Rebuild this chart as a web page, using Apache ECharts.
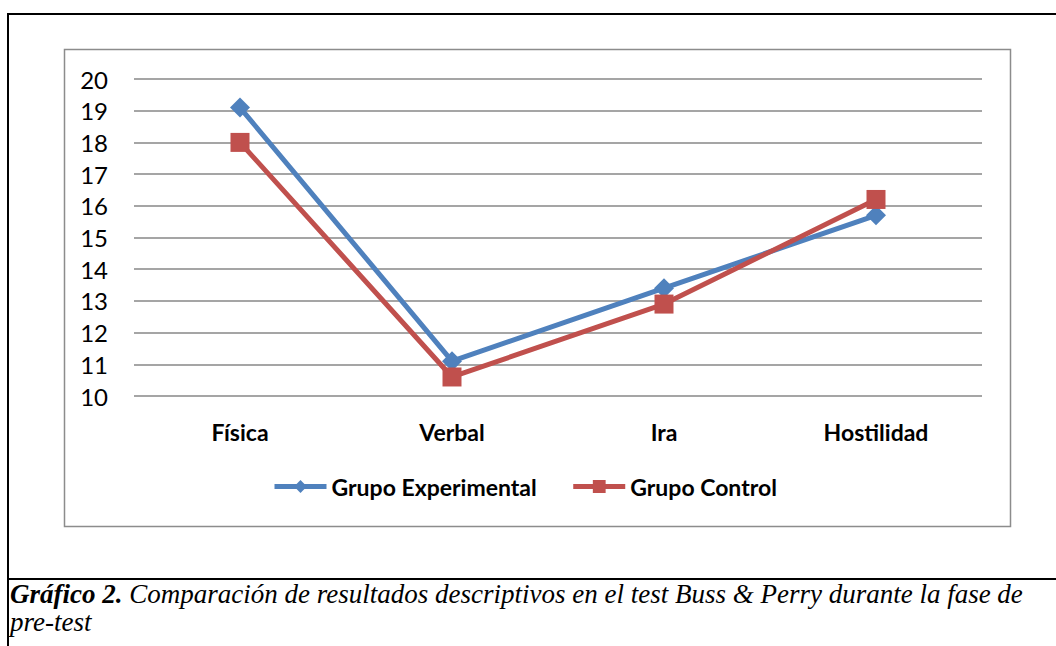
<!DOCTYPE html>
<html>
<head>
<meta charset="utf-8">
<script src="https://cdn.jsdelivr.net/npm/echarts@6/dist/echarts.min.js"></script>
<style>
  html, body { margin: 0; padding: 0; background: #fff; }
  #chart { width: 1056px; height: 646px; }
</style>
</head>
<body>
<div id="chart"></div>
<script>
// data
const categories = ['Física', 'Verbal', 'Ira', 'Hostilidad']
const grupoExperimental = [19.1, 11.1, 13.4, 15.7]
const grupoControl = [18.0, 10.6, 12.9, 16.2]
const yMin = 10
const yMax = 20
const yStep = 1

const blue = '#4F81BD'
const red = '#C0504D'
const labelFont = 'Lato, "Open Sans", sans-serif'

const chart = echarts.init(document.getElementById('chart'), null, { renderer: 'svg' })

chart.setOption({
    animation: false,
    backgroundColor: '#fff',
    grid: {
        left: 134,
        right: 74,
        top: 79,
        bottom: 250
    },
    legend: {
        left: 272,
        top: 475,
        padding: 0,
        itemWidth: 52,
        itemHeight: 16,
        itemGap: 34,
        lineStyle: { width: 5 },
        textStyle: {
            fontFamily: labelFont,
            fontWeight: 'bold',
            fontSize: 23,
            color: '#000'
        },
        data: ['Grupo Experimental', 'Grupo Control']
    },
    xAxis: {
        type: 'category',
        data: categories,
        boundaryGap: true,
        axisLine: { show: false },
        axisTick: { show: false },
        axisLabel: {
            margin: 24,
            fontFamily: labelFont,
            fontWeight: 'bold',
            fontSize: 23,
            color: '#000'
        }
    },
    yAxis: {
        type: 'value',
        min: yMin,
        max: yMax,
        interval: yStep,
        axisLine: { show: false },
        axisTick: { show: false },
        axisLabel: {
            margin: 26,
            fontFamily: labelFont,
            fontSize: 24,
            color: '#000'
        },
        splitLine: {
            lineStyle: { color: '#878787', width: 1.5 }
        }
    },
    series: [
        {
            name: 'Grupo Experimental',
            type: 'line',
            data: grupoExperimental,
            symbol: 'diamond',
            symbolSize: 20,
            color: blue,
            lineStyle: { width: 5, color: blue },
            itemStyle: { color: blue }
        },
        {
            name: 'Grupo Control',
            type: 'line',
            data: grupoControl,
            symbol: 'rect',
            symbolSize: 19,
            color: red,
            lineStyle: { width: 5, color: red },
            itemStyle: { color: red }
        }
    ],
    graphic: [
        // chart area box
        {
            type: 'rect',
            shape: { x: 64.5, y: 49.5, width: 946, height: 477 },
            style: { fill: 'none', stroke: '#8c8c8c', lineWidth: 1.5 },
            z: -1
        },
        // outer frame lines
        {
            type: 'line',
            shape: { x1: 8, y1: 14, x2: 1056, y2: 14 },
            style: { stroke: '#000', lineWidth: 2 }
        },
        {
            type: 'line',
            shape: { x1: 8, y1: 13, x2: 8, y2: 646 },
            style: { stroke: '#000', lineWidth: 2 }
        },
        {
            type: 'line',
            shape: { x1: 8, y1: 579, x2: 1056, y2: 579 },
            style: { stroke: '#000', lineWidth: 2 }
        },
        // caption
        {
            type: 'text',
            left: 10,
            top: 580,
            style: {
                text: '{b|Gráfico 2. }{i|Comparación de resultados descriptivos en el test Buss & Perry durante la fase de}\n{i|pre-test}',
                rich: {
                    b: {
                        fontFamily: '"Liberation Serif", serif',
                        fontStyle: 'italic',
                        fontWeight: 'bold',
                        fontSize: 27,
                        lineHeight: 28,
                        fill: '#000'
                    },
                    i: {
                        fontFamily: '"Liberation Serif", serif',
                        fontStyle: 'italic',
                        fontSize: 27,
                        lineHeight: 28,
                        fill: '#000'
                    }
                }
            }
        }
    ]
})
</script>
</body>
</html>
